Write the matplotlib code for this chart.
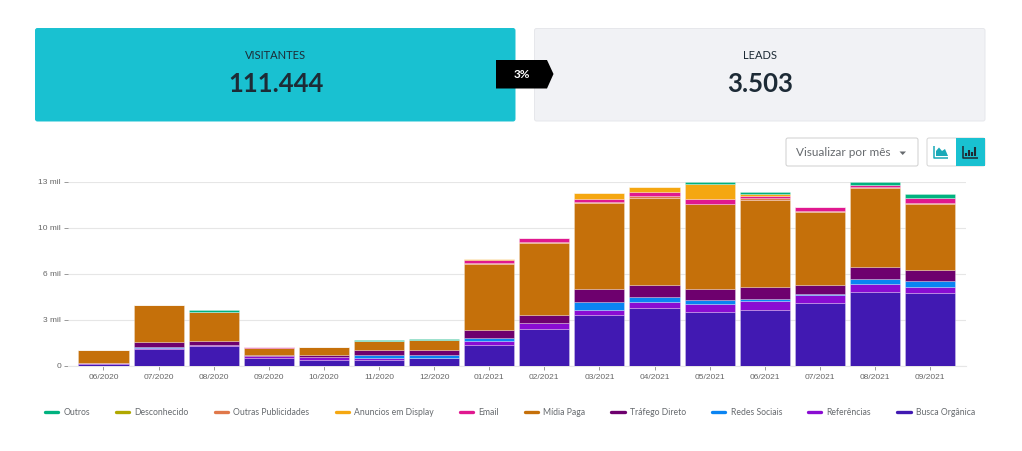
import matplotlib
matplotlib.use("Agg")
import matplotlib.pyplot as plt
import numpy as np
from matplotlib.lines import Line2D
from matplotlib.patches import FancyBboxPatch, Polygon, Rectangle

months = ["06/2020", "07/2020", "08/2020", "09/2020", "10/2020", "11/2020", "12/2020", "01/2021",
          "02/2021", "03/2021", "04/2021", "05/2021", "06/2021", "07/2021", "08/2021", "09/2021"]
busca = [130, 1200, 1390, 565, 400, 377, 495, 1460, 2590, 3534, 4076, 3793, 3935, 4406, 5207, 5136]
referencias = [20, 70, 70, 95, 210, 188, 70, 260, 380, 401, 424, 542, 636, 542, 542, 424]
redes = [10, 50, 20, 10, 20, 165, 212, 235, 45, 541, 306, 259, 94, 94, 377, 377]
trafego = [50, 350, 240, 60, 100, 400, 353, 519, 585, 943, 848, 825, 895, 659, 801, 778]
midia = [920, 2570, 2070, 540, 610, 566, 660, 4712, 5070, 6078, 6196, 6008, 6126, 5137, 5607, 4712]
email = [0, 0, 20, 30, 0, 44, 0, 164, 236, 212, 283, 306, 189, 282, 189, 300]
display = [0, 0, 0, 0, 0, 0, 0, 70, 0, 401, 353, 1084, 118, 0, 0, 0]
outras_pub = [0, 0, 0, 0, 0, 0, 0, 70, 70, 47, 95, 0, 117, 47, 47, 76]
desconhecido = [0, 0, 0, 0, 0, 0, 0, 0, 0, 0, 0, 0, 0, 0, 0, 0]
outros = [0, 0, 120, 0, 0, 50, 95, 0, 0, 0, 0, 117, 141, 0, 211, 330]
y_ticks = [0, 3250, 6500, 9750, 13000]
y_labels = ["0", "3 mil", "6 mil", "10 mil", "13 mil"]

stack = [
    ("Busca Orgânica", busca, "#4119B2"),
    ("Referências", referencias, "#8A0CD2"),
    ("Redes Sociais", redes, "#0A84F2"),
    ("Tráfego Direto", trafego, "#6E006E"),
    ("Mídia Paga", midia, "#C5700A"),
    ("Outras Publicidades", outras_pub, "#E0784A"),
    ("Email", email, "#E0188F"),
    ("Anuncios em Display", display, "#F5A711"),
    ("Desconhecido", desconhecido, "#B0A800"),
    ("Outros", outros, "#00B27F"),
]
legend_order = ["Outros", "Desconhecido", "Outras Publicidades", "Anuncios em Display", "Email",
                "Mídia Paga", "Tráfego Direto", "Redes Sociais", "Referências", "Busca Orgânica"]

W, H = 1022, 451
fig = plt.figure(figsize=(W / 100, H / 100), dpi=100, facecolor="white")
UI = "Lato"

bg = fig.add_axes([0, 0, 1, 1])
bg.set_xlim(0, W)
bg.set_ylim(H, 0)
bg.axis("off")


def card(x0, y0, x1, y1, fc, ec):
    bg.add_patch(FancyBboxPatch((x0 + 1, y0 + 1), x1 - x0 - 2, y1 - y0 - 2,
                                boxstyle="round,pad=1,rounding_size=2", fc=fc, ec=ec, lw=0.7))


card(35.5, 28.5, 515, 121, "#19C1D1", "#19C1D1")
card(534.5, 28.5, 985, 121, "#F1F2F5", "#E6E7EB")
bg.text(276, 55.5, "VISITANTES", ha="center", va="center", fontsize=8, family=UI, color="#1D2B36")
bg.text(276, 83.5, "111.444", ha="center", va="center", fontsize=18.5, family=UI, weight="bold", color="#1D2B36")
bg.text(760, 55.5, "LEADS", ha="center", va="center", fontsize=8, family=UI, color="#1D2B36")
bg.text(760, 83.5, "3.503", ha="center", va="center", fontsize=18.5, family=UI, weight="bold", color="#1D2B36")
bg.add_patch(Polygon([(496, 60), (547, 60), (553.5, 74), (547, 88.5), (496, 88.5)], fc="black", ec="none"))
bg.text(521.5, 74, "3%", ha="center", va="center", fontsize=8.5, family=UI, weight="bold", color="white")

card(786, 138, 918, 166, "white", "#CFCFCF")
bg.text(796, 152.5, "Visualizar por mês", ha="left", va="center", fontsize=8.5, family=UI, color="#666A6E")
bg.add_patch(Polygon([(899.5, 151.5), (906, 151.5), (902.7, 155)], fc="#666A6E", ec="none"))
card(927, 138, 985, 166, "white", "#D5D5D5")
bg.add_patch(Rectangle((956, 138), 29, 28, fc="#19C1D1", ec="none"))

# toggle icons
bg.plot([934, 934, 948], [146, 157.5, 157.5], color="#19A9B8", lw=1.1, solid_capstyle="butt")
bg.add_patch(Polygon([(936, 156), (936, 151), (939, 147.5), (942, 151), (945, 149), (948, 156)], fc="#19A9B8", ec="none"))
bg.plot([963, 963, 977.5], [146, 157.5, 157.5], color="#1F2A33", lw=1.1, solid_capstyle="butt")
for ix, iy in zip([965.5, 968.5, 971.5, 974.5], [153, 150, 152, 147]):
    bg.plot([ix, ix], [156, iy], color="#1F2A33", lw=1.5, solid_capstyle="butt")

# chart
left, right, top, bottom = 68, 966, 181.5, 365.5
ax = fig.add_axes([left / W, 1 - bottom / H, (right - left) / W, (bottom - top) / H])
ax.patch.set_alpha(0)
x = np.arange(len(months))
base = np.zeros(len(months))
for name, vals, color in stack:
    v = np.array(vals, dtype=float)
    ax.bar(x, v, 0.91, bottom=base, color=color, edgecolor=(1, 1, 1, 0.3), linewidth=0.6, label=name, zorder=3)
    base += v

ax.set_xlim(-0.644, 15.653)
ax.set_ylim(0, 13000)
ax.set_yticks(y_ticks, y_labels)
ax.set_xticks(x, months)
ax.grid(axis="y", color="#E6E6E6", lw=0.8, zorder=0)
ax.set_axisbelow(True)
for s in ["top", "right", "left"]:
    ax.spines[s].set_visible(False)
ax.spines["bottom"].set_color("#E6E6E6")
ax.spines["bottom"].set_linewidth(0.8)
ax.tick_params(axis="y", length=3, width=0.7, color="#999999", labelcolor="#666666", pad=2)
ax.tick_params(axis="x", length=3, width=0.7, color="#999999", labelcolor="#666666", pad=3)
for t in ax.get_xticklabels() + ax.get_yticklabels():
    t.set_family("Liberation Sans")
    t.set_fontsize(6)

colors = {n: c for n, _, c in stack}
handles = [Line2D([0], [0], color=colors[n], lw=2.4, solid_capstyle="round", label=n) for n in legend_order]
leg = fig.legend(handles=handles, ncol=10, loc="center", bbox_to_anchor=(510 / W, 1 - 412.5 / H), frameon=False,
                 prop={"family": UI, "size": 6.2}, handlelength=1.55, handletextpad=0.6, columnspacing=3.02,
                 borderpad=0, borderaxespad=0, labelcolor="#666A6E")

fig.savefig("out.png", dpi=100)
